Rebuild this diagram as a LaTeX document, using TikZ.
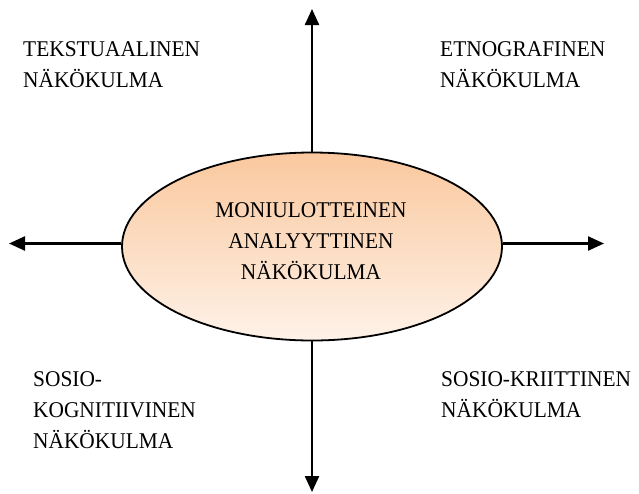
\documentclass[tikz,border=0pt]{standalone}
\usepackage{fontspec}
\setmainfont{Liberation Serif}[FakeStretch=0.95]
\usetikzlibrary{arrows.meta,shapes.geometric}
\definecolor{peachtop}{RGB}{250,200,158}
\definecolor{peachbot}{RGB}{254,242,232}
\tikzset{
  axis/.style={line width=2.4pt,-{Triangle[length=16pt,width=14pt]}},
  label/.style={anchor=north west,inner sep=0pt,align=left,
    font=\fontsize{22.5}{31}\selectfont},
  centre/.style={ellipse,draw,line width=1.8pt,minimum width=380,minimum height=188,
    inner sep=0pt,top color=peachtop,bottom color=peachbot},
}
\begin{document}
\begin{tikzpicture}[x=1pt,y=-1pt]
\useasboundingbox (0,0) rectangle (639,493);
% ends of the four axes
\coordinate (top) at (312,9);
\coordinate (bottom) at (312,492);
\coordinate (left) at (9,243.5);
\coordinate (right) at (604,243.5);
% central ellipse
\node[centre] (core) at (312,246.5) {};
\node[anchor=north,inner sep=0pt,align=center,font=\fontsize{22.5}{31}\selectfont]
  (coretext) at (311,202) {MONIULOTTEINEN\\ANALYYTTINEN\\NÄKÖKULMA};
% axes leaving the ellipse
\draw[axis] (core.north) -- (top);
\draw[axis] (core.south) -- (bottom);
\draw[axis] (core.west |- left) -- (left);
\draw[axis] (core.east |- right) -- (right);
% quadrant labels
\node[label] (tl) at (23,41) {TEKSTUAALINEN\\NÄKÖKULMA};
\node[label] (tr) at (440,41) {ETNOGRAFINEN\\NÄKÖKULMA};
\node[label] (bl) at (33,371) {SOSIO-\\KOGNITIIVINEN\\NÄKÖKULMA};
\node[label] (br) at (441,371) {SOSIO-KRIITTINEN\\NÄKÖKULMA};
\end{tikzpicture}
\end{document}
